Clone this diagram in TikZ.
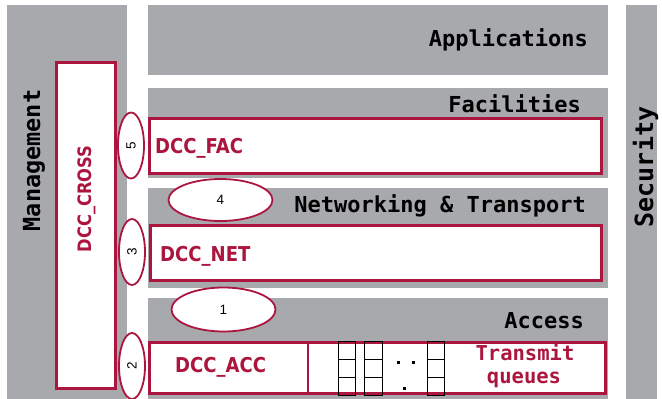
\documentclass[tikz,border=0pt]{standalone}
\usepackage{fontspec}
\newfontfamily\monofont{DejaVu Sans Mono}
\newfontfamily\dccfont[FakeStretch=0.88]{DejaVu Sans}
\newfontfamily\numfont{Liberation Sans}
\usetikzlibrary{shapes.geometric}
\definecolor{laygray}{RGB}{167,169,172}
\definecolor{dccred}{RGB}{172,22,62}
\tikzset{
  layer/.style={fill=laygray},
  redbox/.style={draw=dccred, line width=2.6pt, fill=white},
  laytitle/.style={font=\monofont\bfseries\fontsize{22}{24}\selectfont, inner sep=0pt, text=black},
  dcctext/.style={font=\dccfont\bfseries\fontsize{20.5}{22}\selectfont, inner sep=0pt, text=dccred},
  qtext/.style={font=\monofont\bfseries\fontsize{20.5}{24}\selectfont, inner sep=0pt, text=dccred},
  iface/.style={ellipse, draw=dccred, line width=1.8pt, fill=white, inner sep=0pt,
                font=\numfont\fontsize{13.5}{15}\selectfont},
  qline/.style={draw=black, line width=0.6pt},
}
\begin{document}
\begin{tikzpicture}[x=1pt, y=-1pt]
\useasboundingbox (0,0) rectangle (662,399);
\fill[white] (0,0) rectangle (662,399);
% gray layers
\fill[layer] (7,5) rectangle (127,399);
\fill[layer] (148,5) rectangle (608,75);
\fill[layer] (148,88) rectangle (608,178);
\fill[layer] (148,188) rectangle (608,288);
\fill[layer] (148,298) rectangle (608,399);
\fill[layer] (626,5) rectangle (657,399);
% layer titles
\node[laytitle, anchor=base east] (app) at (588,46) {Applications};
\node[laytitle, anchor=base east] (fact) at (581,112) {Facilities};
\node[laytitle, anchor=base east] (nett) at (586,212) {Networking \& Transport};
\node[laytitle, anchor=base east] (acct) at (584,328) {Access};
\node[laytitle, font=\monofont\bfseries\fontsize{23.5}{26}\selectfont, rotate=90, anchor=base] (mgmt) at (40,160.5) {Management};
\node[laytitle, font=\monofont\bfseries\fontsize{25}{27}\selectfont, rotate=90, anchor=base] (sec) at (653,167) {Security};
% DCC boxes
\draw[redbox] (56.3,62.3) rectangle (115.7,388.7);
\node[dcctext, font=\dccfont\bfseries\fontsize{18.5}{20}\selectfont, rotate=90, anchor=base] (cross) at (91,199) {DCC\_CROSS};
\draw[redbox] (149.3,118.3) rectangle (601.7,173.7);
\node[dcctext, anchor=base west] (fac) at (155,153) {DCC\_FAC};
\draw[redbox] (150.3,225.3) rectangle (601.7,280.7);
\node[dcctext, anchor=base west] (net) at (160,261) {DCC\_NET};
\draw[redbox] (149.3,342.3) rectangle (605.7,393.7);
\node[dcctext, anchor=base west] (acc) at (175,372) {DCC\_ACC};
\draw[draw=dccred, line width=1.4pt] (308,342) -- (308,394);
% transmit queues
\foreach \xa/\xb in {338/355, 364/382, 427/444}{
  \draw[qline] (\xa,341) rectangle (\xb,395);
  \draw[qline] (\xa,359) -- (\xb,359);
  \draw[qline] (\xa,377) -- (\xb,377);
}
\fill[black] (396.5,360.5) rectangle (399.5,363.5);
\fill[black] (411.5,360.5) rectangle (414.5,363.5);
\fill[black] (402.5,386.5) rectangle (405.5,389.5);
\node[qtext, anchor=base] (tq1) at (525,360) {Transmit};
\node[qtext, anchor=base] (tq2) at (524,383) {queues};
% interface ellipses
\node[iface, minimum width=26pt, minimum height=66pt] (i5) at (131,145.5) {\rotatebox{90}{5}};
\node[iface, minimum width=26pt, minimum height=66pt] (i3) at (132,252) {\rotatebox{90}{3}};
\node[iface, minimum width=26pt, minimum height=66pt] (i2) at (132,366) {\rotatebox{90}{2}};
\node[iface, minimum width=104pt, minimum height=42pt] (i4) at (220.5,200) {4};
\node[iface, minimum width=104pt, minimum height=44pt] (i1) at (223.5,309.5) {1};
\end{tikzpicture}
\end{document}
